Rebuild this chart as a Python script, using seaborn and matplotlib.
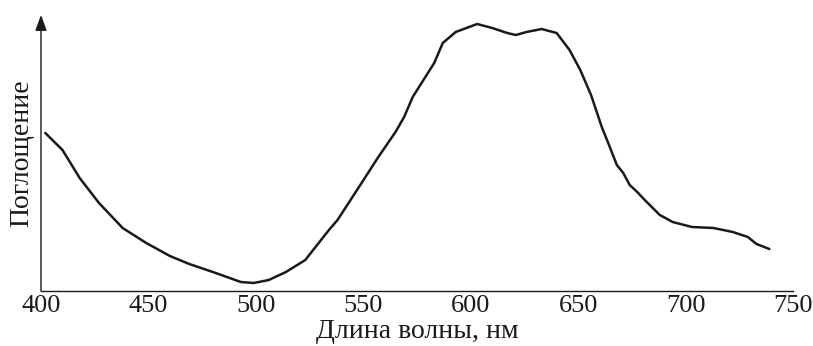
import numpy as np
import pandas as pd
import matplotlib
matplotlib.use('Agg')
import matplotlib.pyplot as plt
import seaborn as sns

# absorption spectrum, values (arbitrary units)
wavelength = [402, 410, 418, 427, 438, 449, 460, 469, 480, 493, 499, 506, 514,
              523, 534, 538, 548, 557, 565, 569, 573, 578, 583, 587, 593, 603,
              610, 617, 621, 626, 633, 640, 646, 651, 656, 661, 664, 668, 671,
              674, 677.5, 681, 688, 694, 703, 713, 722, 729, 733, 739]
absorbance = [158, 141, 113, 88, 63, 48, 35, 27, 19, 9, 8, 11, 19,
              31, 61, 71, 104, 134, 159, 174, 194, 211, 228, 248, 259, 267,
              263, 258, 256, 259, 262, 258, 241, 221, 196, 164, 148, 126, 118,
              106, 99, 91, 76, 69, 64, 63, 59, 54, 47, 42]
xticks = [400, 450, 500, 550, 600, 650, 700, 750]

sns.set_style('white')
plt.rcParams['font.family'] = ['Liberation Serif', 'DejaVu Serif']

df = pd.DataFrame({'wl': wavelength, 'abs': absorbance})

fig = plt.figure(figsize=(8.13, 3.46), dpi=100)
ax = fig.add_axes([41 / 813, 55 / 346, 752 / 813, 276 / 346])

sns.lineplot(data=df, x='wl', y='abs', ax=ax, color='#1a1a1a', linewidth=1.8,
             estimator=None, sort=False)

ax.set_xlim(400, 750)
ax.set_ylim(0, 276)
ax.set_xticks(xticks)
ax.set_xticklabels([str(t) for t in xticks], fontsize=19)
ax.set_yticks([])
ax.tick_params(axis='x', direction='in', length=6, width=1, color='#1a1a1a',
               pad=3, labelcolor='#1a1a1a')

for s in ['top', 'right', 'left']:
    ax.spines[s].set_visible(False)
ax.spines['bottom'].set_color('#1a1a1a')
ax.spines['bottom'].set_linewidth(1)

# y axis drawn as an arrow
ax.annotate('', xy=(0, 1), xycoords='axes fraction', xytext=(0, 0),
            arrowprops=dict(arrowstyle='-|>,head_length=0.95,head_width=0.35',
                            color='#1a1a1a', lw=1, shrinkA=0, shrinkB=0))

ax.set_xlabel('Длина волны, нм', fontsize=20, color='#1a1a1a', labelpad=1.5)
ax.set_ylabel('Поглощение', fontsize=20, color='#1a1a1a', labelpad=5)

fig.savefig('out.png', dpi=100)
